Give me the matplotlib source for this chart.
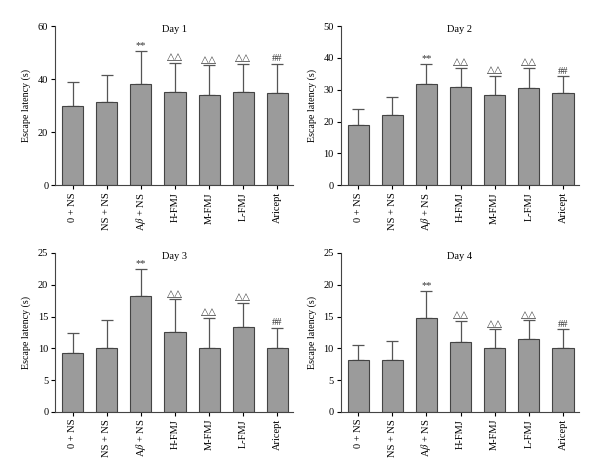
import matplotlib
matplotlib.use("Agg")
import matplotlib.pyplot as plt
import numpy as np

plt.rcParams['font.family'] = ['Liberation Serif', 'DejaVu Sans']
plt.rcParams['mathtext.fontset'] = 'stix'

groups = ["0 + NS", "NS + NS", r"A$\beta$ + NS", "H-FMJ", "M-FMJ", "L-FMJ", "Aricept"]
marks = ["", "", "**", "\u25b3\u25b3", "\u25b3\u25b3", "\u25b3\u25b3", "##"]

day1_mean = [29.8, 31.3, 38.1, 35.3, 34.0, 35.3, 34.6]
day1_err = [9.3, 10.1, 12.5, 10.9, 11.2, 10.4, 11.1]
day2_mean = [18.9, 22.0, 31.9, 30.8, 28.4, 30.7, 29.0]
day2_err = [5.2, 5.8, 6.2, 6.1, 5.9, 6.1, 5.2]
day3_mean = [9.2, 10.1, 18.3, 12.6, 10.1, 13.3, 10.0]
day3_err = [3.2, 4.3, 4.2, 5.1, 4.7, 3.9, 3.2]
day4_mean = [8.2, 8.1, 14.7, 11.0, 10.0, 11.5, 10.0]
day4_err = [2.3, 3.1, 4.3, 3.3, 3.0, 2.9, 3.0]

panels = [
    ("Day 1", day1_mean, day1_err, 60, 20),
    ("Day 2", day2_mean, day2_err, 50, 10),
    ("Day 3", day3_mean, day3_err, 25, 5),
    ("Day 4", day4_mean, day4_err, 25, 5),
]
rects = [
    [0.092, 0.611, 0.397, 0.334],
    [0.568, 0.611, 0.397, 0.334],
    [0.092, 0.1345, 0.397, 0.334],
    [0.568, 0.1345, 0.397, 0.334],
]

fig = plt.figure(figsize=(6, 4.76), dpi=100)
x = np.arange(len(groups))

for (title, mean, err, ymax, step), rect in zip(panels, rects):
    ax = fig.add_axes(rect)
    ax.bar(x, mean, width=0.62, color="#9b9b9b", edgecolor="#444444", linewidth=0.8, zorder=2)
    ax.errorbar(x, mean, yerr=[np.zeros(len(err)), err], fmt="none", ecolor="#555555",
                elinewidth=0.9, capsize=4.5, capthick=0.9, zorder=1)
    for xi, m, e, s in zip(x, mean, err, marks):
        if s:
            ax.text(xi, m + e + ymax * 0.005, s, ha="center", va="bottom", fontsize=7.5, color="#333333")
    ax.set_xlim(-0.51, 6.47)
    ax.set_ylim(0, ymax)
    ax.set_yticks(np.arange(0, ymax + 1, step))
    ax.set_xticks(x)
    ax.set_xticklabels(groups, rotation=90, fontsize=7.5)
    ax.tick_params(axis="y", labelsize=7.5, length=3, width=0.8, pad=2)
    ax.tick_params(axis="x", length=3, width=0.8, pad=2)
    for side in ["top", "right"]:
        ax.spines[side].set_visible(False)
    for side in ["left", "bottom"]:
        ax.spines[side].set_linewidth(0.8)
        ax.spines[side].set_color("#444444")
    ax.set_ylabel("Escape latency (s)", fontsize=7.2, labelpad=5)
    ax.set_title(title, fontsize=7.5, y=0.965, pad=0)

fig.savefig("out.png", dpi=100)
